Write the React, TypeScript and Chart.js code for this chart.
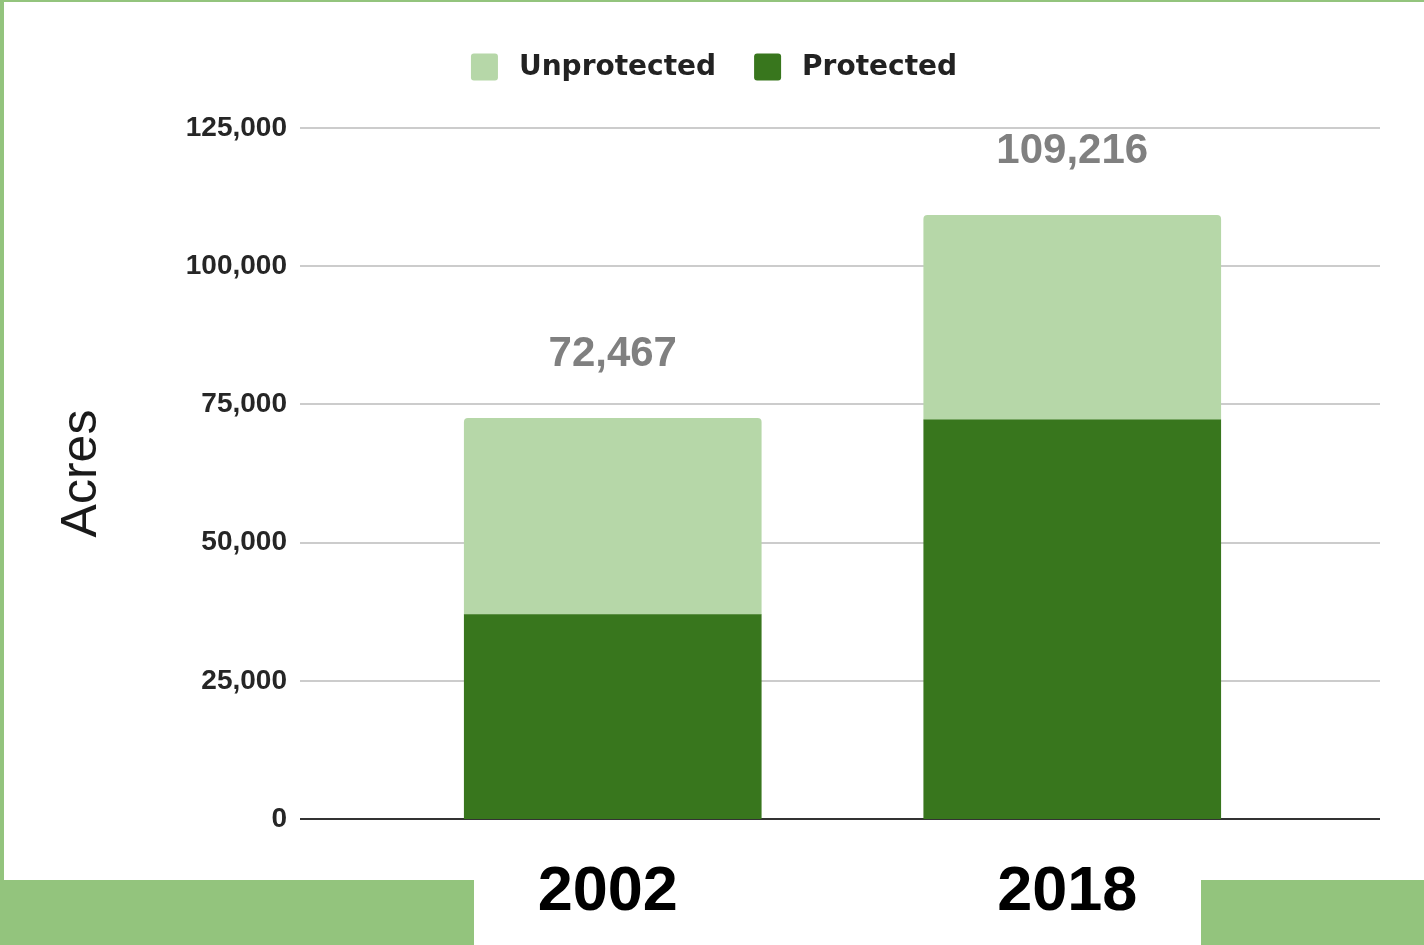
import React, { useEffect, useRef } from 'react';
import { Chart, registerables } from 'chart.js';

Chart.register(...registerables);

const categories = ['2002', '2018'];
const protectedAcres = [37000, 72200];
const unprotectedAcres = [35467, 37016];
const yTicks = [0, 25000, 50000, 75000, 100000, 125000];
const legendNames = ['Unprotected', 'Protected'];

const PROTECTED_COLOR = '#38761d';
const UNPROTECTED_COLOR = '#b6d7a8';
const FRAME_GREEN = '#93c47d';
const ARIAL = "'Liberation Sans', Arial, sans-serif";
const VERDANA = "'DejaVu Sans', Verdana, sans-serif";

// grid lines extend beyond the category area
const GRID_LEFT = 300;
const GRID_RIGHT = 1380;

const fmt = (v: number) => Number(v).toLocaleString('en-US');

const gridPlugin = {
  id: 'wideGrid',
  beforeDatasetsDraw(chart: any) {
    const { ctx, scales } = chart;
    const ys = scales.y;
    ctx.save();
    ys.ticks.forEach((t: any) => {
      const y = Math.round(ys.getPixelForValue(t.value));
      ctx.strokeStyle = t.value === 0 ? '#333333' : '#cccccc';
      ctx.lineWidth = 2;
      ctx.beginPath();
      ctx.moveTo(GRID_LEFT, y);
      ctx.lineTo(GRID_RIGHT, y);
      ctx.stroke();
    });
    ctx.restore();
  },
};

const overlayPlugin = {
  id: 'overlay',
  afterDatasetsDraw(chart: any) {
    const { ctx, scales, chartArea } = chart;
    const xs = scales.x;
    const ys = scales.y;
    ctx.save();
    // totals above bars
    ctx.font = `bold 42px ${ARIAL}`;
    ctx.fillStyle = '#808080';
    ctx.textAlign = 'center';
    ctx.textBaseline = 'middle';
    categories.forEach((_c, i) => {
      const total = protectedAcres[i] + unprotectedAcres[i];
      ctx.fillText(fmt(total), xs.getPixelForValue(i), ys.getPixelForValue(total) - 64);
    });
    ctx.restore();

    // axis title
    ctx.save();
    ctx.translate(82, (chartArea.top + chartArea.bottom) / 2);
    ctx.rotate(-Math.PI / 2);
    ctx.font = `50px ${ARIAL}`;
    ctx.fillStyle = '#1a1a1a';
    ctx.textAlign = 'center';
    ctx.textBaseline = 'middle';
    ctx.fillText('Acres', 0, 0);
    ctx.restore();

    // legend
    ctx.save();
    ctx.font = `bold 28px ${VERDANA}`;
    ctx.textBaseline = 'middle';
    ctx.textAlign = 'left';
    const box = 27;
    const gap = 21;
    const itemGap = 38;
    const colors = [UNPROTECTED_COLOR, PROTECTED_COLOR];
    const widths = legendNames.map((n) => ctx.measureText(n).width);
    const total = widths.reduce((a, w) => a + box + gap + w, 0) + itemGap * (legendNames.length - 1);
    let x = chart.width / 2 + 2 - total / 2;
    const cy = 67;
    legendNames.forEach((name, i) => {
      ctx.fillStyle = colors[i];
      ctx.beginPath();
      (ctx as any).roundRect(x, cy - box / 2, box, box, 3);
      ctx.fill();
      ctx.fillStyle = '#222222';
      ctx.fillText(name, x + box + gap, cy + 1);
      x += box + gap + widths[i] + itemGap;
    });
    ctx.restore();
  },
};

export default function App() {
  const canvasRef = useRef<HTMLCanvasElement | null>(null);

  useEffect(() => {
    if (!canvasRef.current) return;
    const chart = new Chart(canvasRef.current, {
      type: 'bar',
      data: {
        labels: categories,
        datasets: [
          {
            label: 'Protected',
            data: protectedAcres,
            backgroundColor: PROTECTED_COLOR,
            barThickness: 297,
            borderWidth: 0,
          },
          {
            label: 'Unprotected',
            data: unprotectedAcres,
            backgroundColor: UNPROTECTED_COLOR,
            barThickness: 297,
            borderWidth: 0,
            borderRadius: { topLeft: 4, topRight: 4, bottomLeft: 0, bottomRight: 0 },
            borderSkipped: false,
          },
        ],
      } as any,
      options: {
        animation: false,
        responsive: false,
        maintainAspectRatio: false,
        layout: { padding: { top: 128, left: 0, right: 122, bottom: 0 } },
        plugins: {
          legend: { display: false },
          tooltip: { enabled: false },
          title: { display: false },
        },
        scales: {
          x: {
            stacked: true,
            offset: true,
            afterFit: (scale: any) => {
              scale.height = 126;
            },
            grid: { display: false, drawTicks: false },
            border: { display: false },
            ticks: {
              padding: 36,
              labelOffset: -5,
              color: '#000000',
              font: { family: ARIAL, size: 63, weight: 'bold' },
              maxRotation: 0,
              autoSkip: false,
            },
          },
          y: {
            stacked: true,
            min: 0,
            max: 125000,
            afterBuildTicks: (scale: any) => {
              scale.ticks = yTicks.map((v) => ({ value: v }));
            },
            afterFit: (scale: any) => {
              scale.width = 383;
            },
            grid: { display: false, drawTicks: false },
            border: { display: false },
            ticks: {
              padding: 96,
              color: '#262626',
              font: { family: ARIAL, size: 28, weight: 'bold' },
              callback: (v: any) => fmt(Number(v)),
            },
          },
        },
      } as any,
      plugins: [gridPlugin, overlayPlugin],
    });
    return () => chart.destroy();
  }, []);

  return (
    <div
      style={{
        position: 'fixed',
        left: 0,
        top: 0,
        width: 1424,
        height: 945,
        background: '#ffffff',
        overflow: 'hidden',
      }}
    >
      <div style={{ position: 'absolute', left: 0, top: 0, width: 4, height: 945, background: FRAME_GREEN }} />
      <div style={{ position: 'absolute', left: 0, top: 0, width: 1424, height: 2, background: FRAME_GREEN }} />
      <div style={{ position: 'absolute', left: 0, top: 880, width: 474, height: 65, background: FRAME_GREEN }} />
      <div style={{ position: 'absolute', left: 1201, top: 880, width: 223, height: 65, background: FRAME_GREEN }} />
      <canvas
        ref={canvasRef}
        width={1424}
        height={945}
        style={{ position: 'absolute', left: 0, top: 0, width: 1424, height: 945 }}
      />
    </div>
  );
}
